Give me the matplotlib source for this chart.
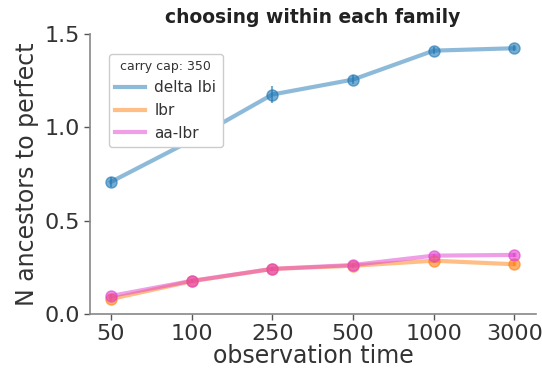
import numpy as np
import matplotlib
matplotlib.use('Agg')
import matplotlib.pyplot as plt

obs_times = ['50', '100', '250', '500', '1000', '3000']
delta_lbi = [0.707, 0.93, 1.175, 1.255, 1.41, 1.423]
delta_lbi_err = [0.025, 0.04, 0.045, 0.025, 0.02, 0.015]
lbr = [0.08, 0.175, 0.241, 0.258, 0.285, 0.266]
lbr_err = [0.01, 0.01, 0.01, 0.01, 0.01, 0.01]
aa_lbr = [0.096, 0.177, 0.241, 0.262, 0.312, 0.316]
aa_lbr_err = [0.01, 0.01, 0.01, 0.01, 0.01, 0.01]

text_col = '#333333'
plt.rcParams['text.color'] = text_col
plt.rcParams['axes.labelcolor'] = text_col
plt.rcParams['xtick.color'] = '#555555'
plt.rcParams['ytick.color'] = '#555555'
plt.rcParams['xtick.labelcolor'] = text_col
plt.rcParams['ytick.labelcolor'] = text_col

fig = plt.figure(figsize=(5.42, 3.68), dpi=100)
ax = fig.add_axes([0.166, 0.147, 0.823, 0.761])

x = np.arange(len(obs_times))
series = [('delta lbi', delta_lbi, delta_lbi_err, '#1f77b4'),
          ('lbr', lbr, lbr_err, '#ff7f0e'),
          ('aa-lbr', aa_lbr, aa_lbr_err, '#e040d0')]
for name, vals, errs, col in series:
    ax.plot(x, vals, color=col, linewidth=3, alpha=0.5, label=name)
    ax.errorbar(x, vals, yerr=errs, fmt='o', color=col, markersize=8, alpha=0.6,
                elinewidth=1.5, capsize=0)

ax.set_xticks(x)
ax.set_xticklabels(obs_times)
ax.set_xlim(-0.26, 5.27)
ax.set_ylim(0, 1.5)
ax.set_yticks([0, 0.5, 1.0, 1.5])
ax.tick_params(labelsize=16, length=4, width=1, pad=3)
ax.set_xlabel('observation time', fontsize=17, labelpad=0)
ax.set_ylabel('N ancestors to perfect', fontsize=17)
ax.set_title('choosing within each family', fontsize=13.5, fontweight='bold',
             pad=8, color='#222222')
for side in ['top', 'right']:
    ax.spines[side].set_visible(False)
for side in ['left', 'bottom']:
    ax.spines[side].set_color('#888888')
    ax.spines[side].set_linewidth(1.2)

leg = ax.legend(title='carry cap: 350', fontsize=11, title_fontsize=9,
                loc='upper left', bbox_to_anchor=(0.035, 0.94), handlelength=2.0,
                handletextpad=0.6, borderaxespad=0.2, framealpha=1, edgecolor='#cccccc')

fig.savefig('out.png', dpi=100)
